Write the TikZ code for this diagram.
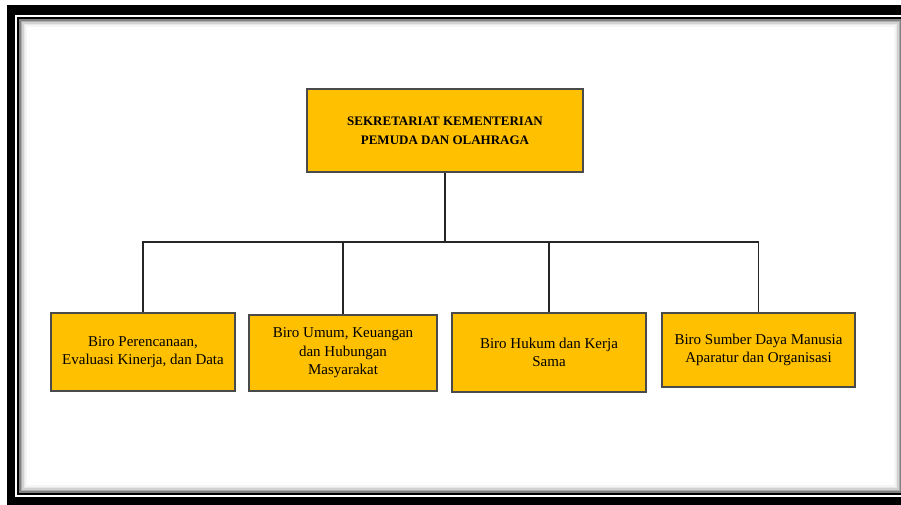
\documentclass[tikz,border=0pt]{standalone}
\usepackage{fontspec}
\setmainfont{Liberation Serif}
\usepackage{tikz}
\usetikzlibrary{positioning}

\definecolor{boxgold}{HTML}{FFC000}
\definecolor{boxline}{HTML}{4A4A4A}

\begin{document}
\begin{tikzpicture}[x=1pt, y=-1pt,
		basic/.style  = {draw=boxline, line width=1.4pt, fill=boxgold, rectangle, align=center, inner sep=0pt},
		root/.style   = {basic, font=\fontsize{13}{19}\selectfont\bfseries, minimum width=276pt, minimum height=83pt},
		biro/.style   = {basic, font=\fontsize{15}{18.5}\selectfont},
		link/.style   = {draw=black!85, line width=1.3pt}]
	
	\useasboundingbox (0,0) rectangle (901,505);
	
	% frame round the chart
	\fill[black] (7,5) rectangle (920,520);
	\fill[white] (15,15) rectangle (905,497);
	\draw[black, line width=2pt] (18,18) rectangle (903,494);
	\draw[black!50, line width=1.5pt] (19.8,19.8) rectangle (901,492);
	\draw[black!32, line width=1.5pt] (21.3,21.3) rectangle (899.5,490.5);
	\draw[black!18, line width=1.5pt] (22.8,22.8) rectangle (898,489);
	\draw[black!9, line width=1.5pt] (24.3,24.3) rectangle (896.5,487.5);
	\draw[black!4, line width=1.5pt] (25.8,25.8) rectangle (895,486);
	
	% root of the chart
	\node[root] (sek) at (445,130.5) {SEKRETARIAT KEMENTERIAN\\PEMUDA DAN OLAHRAGA};
	
	% the four bureaus
	\node[biro, minimum width=184pt, minimum height=78pt] (b1) at (143,352) {Biro Perencanaan,\\Evaluasi Kinerja, dan Data};
	\node[biro, minimum width=188pt, minimum height=76pt] (b2) at (343,353) {Biro Umum, Keuangan\\dan Hubungan\\Masyarakat};
	\node[biro, minimum width=194pt, minimum height=79pt] (b3) at (549,352.5) {Biro Hukum dan Kerja\\Sama};
	\node[biro, minimum width=193pt, minimum height=74pt] (b4) at (758.5,350) {Biro Sumber Daya Manusia\\Aparatur dan Organisasi};
	
	% lines from the root to every bureau
	\coordinate (bus) at (445,242);
	\draw[link] (sek.south) -- (bus);
	\foreach \value in {1,...,4}
	\draw[link] (b\value.north) |- (bus);
	
\end{tikzpicture}
\end{document}
